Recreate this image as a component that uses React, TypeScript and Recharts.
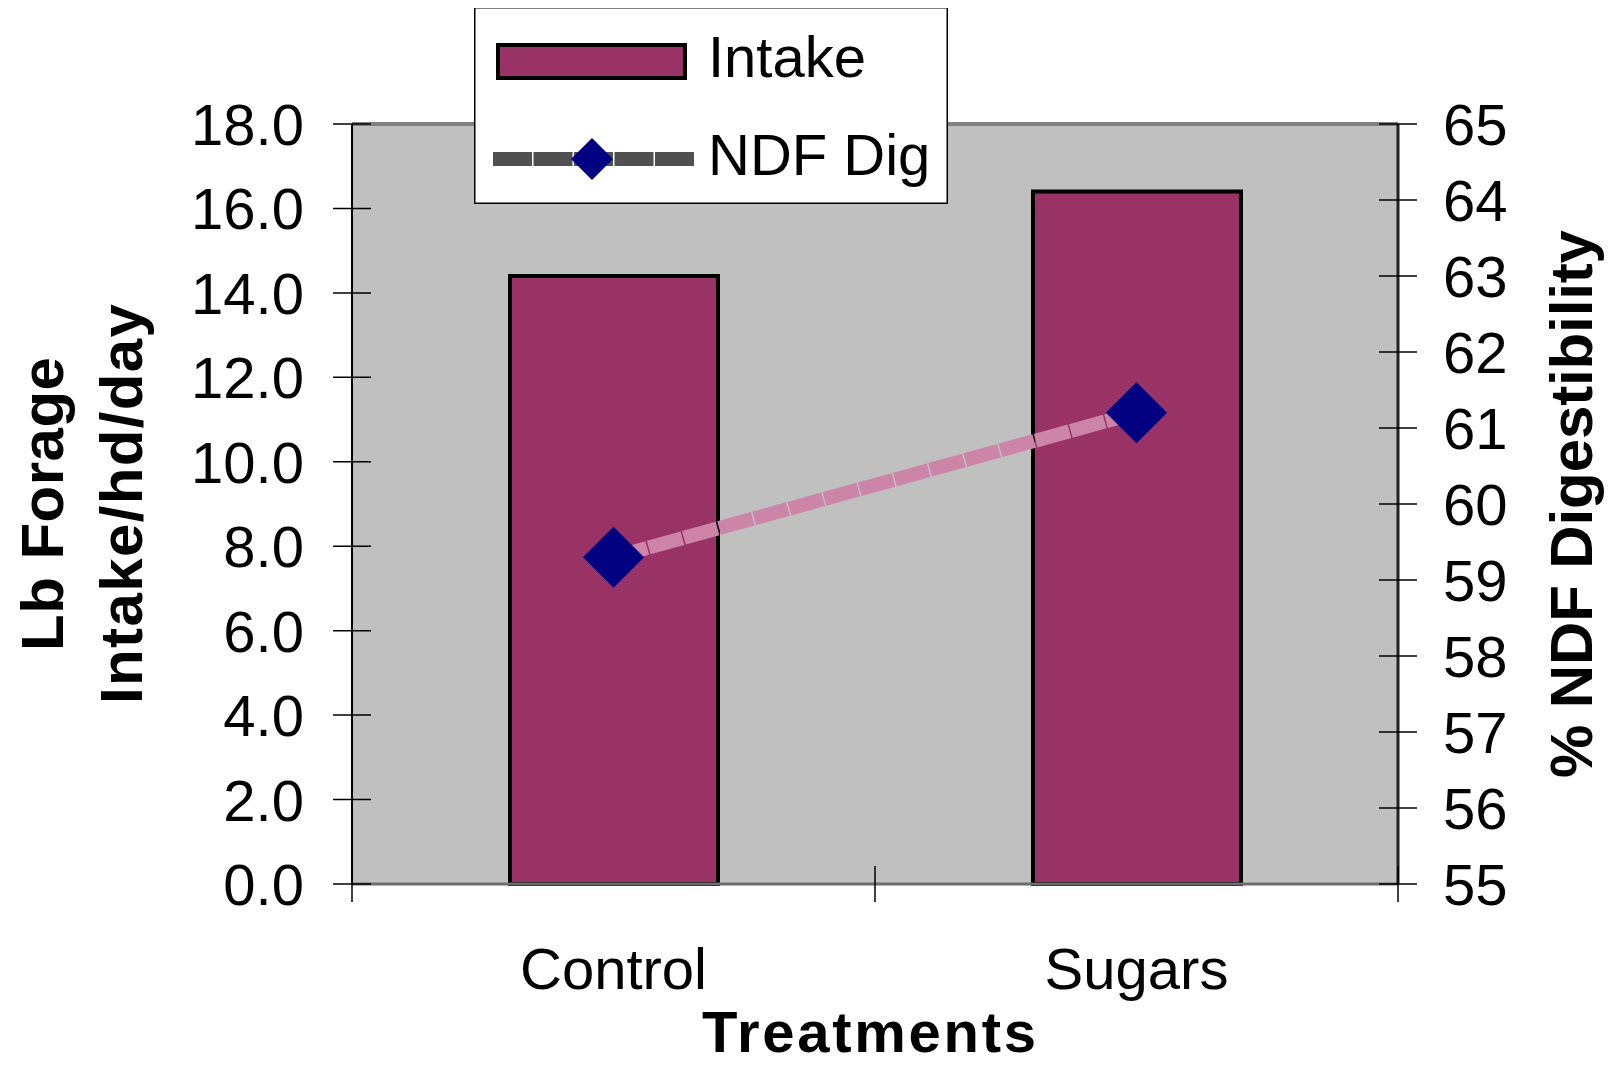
import React from 'react';
import { ComposedChart, Bar, Line, XAxis, YAxis, CartesianGrid, Legend, ReferenceLine } from 'recharts';

const categories = ['Control', 'Sugars'];
const intakeValues = [14.4, 16.4];
const ndfDigValues = [59.3, 61.2];
const leftTicks = [0, 2, 4, 6, 8, 10, 12, 14, 16, 18];
const rightTicks = [55, 56, 57, 58, 59, 60, 61, 62, 63, 64, 65];

const data = categories.map((name, i) => ({ name, intake: intakeValues[i], ndf: ndfDigValues[i] }));

const W = 1600;
const H = 1059;
const LEFT_AXIS_W = 200;
const RIGHT_AXIS_W = 210;
const X_AXIS_H = 183;
const MARGIN = { top: 116, right: 0, bottom: 0, left: 144 };
const PLOT_W = W - MARGIN.left - MARGIN.right - LEFT_AXIS_W - RIGHT_AXIS_W;
const HALF_BAND = PLOT_W / categories.length / 2;

const FONT = "'Liberation Sans', Arial, sans-serif";
const BAR_FILL = '#993366';
const LINE_COLOR = '#cc84a7';
const MARKER = '#000080';

const LeftTick = (props: any) => {
  const { x, y, payload } = props;
  return (
    <g>
      <line x1={x - 19} x2={x + 19} y1={y} y2={y} stroke="#000" strokeWidth={1.5} />
      <text x={x - 48} y={y + 21} textAnchor="end" fontSize={58} fontFamily={FONT} fill="#000">
        {Number(payload.value).toFixed(1)}
      </text>
    </g>
  );
};

const RightTick = (props: any) => {
  const { x, y, payload } = props;
  return (
    <g>
      <line x1={x - 19} x2={x + 19} y1={y} y2={y} stroke="#000" strokeWidth={1.5} />
      <text x={x + 45} y={y + 21} textAnchor="start" fontSize={58} fontFamily={FONT} fill="#000">
        {payload.value}
      </text>
    </g>
  );
};

const BottomTick = (props: any) => {
  const { x, y, payload, index } = props;
  const isLast = index === categories.length - 1;
  return (
    <g>
      <line x1={x - HALF_BAND} x2={x - HALF_BAND} y1={y - 18} y2={y + 18} stroke="#000" strokeWidth={1.5} />
      {isLast && (
        <line x1={x + HALF_BAND} x2={x + HALF_BAND} y1={y - 18} y2={y + 18} stroke="#000" strokeWidth={1.5} />
      )}
      <text x={x} y={y + 105} textAnchor="middle" fontSize={58} fontFamily={FONT} fill="#000">
        {payload.value}
      </text>
    </g>
  );
};

const Diamond = (props: any) => {
  const { cx, cy, index } = props;
  if (cx == null || cy == null) return <g key={`d-${index}`} />;
  const r = 30;
  return (
    <polygon
      key={`d-${index}`}
      points={`${cx},${cy - r} ${cx + r},${cy} ${cx},${cy + r} ${cx - r},${cy}`}
      fill={MARKER}
      stroke={MARKER}
      strokeWidth={1}
    />
  );
};

const LeftTitle = (props: any) => {
  const { viewBox } = props;
  const cy = viewBox.y + viewBox.height / 2;
  const b1 = viewBox.x - 89;
  const b2 = viewBox.x - 10;
  return (
    <g>
      <text x={b1} y={cy} transform={`rotate(-90, ${b1}, ${cy})`} textAnchor="middle" fontSize={60} fontWeight="bold" fontFamily={FONT} fill="#000" textLength={294} lengthAdjust="spacing">
        Lb Forage
      </text>
      <text x={b2} y={cy} transform={`rotate(-90, ${b2}, ${cy})`} textAnchor="middle" fontSize={60} fontWeight="bold" fontFamily={FONT} fill="#000" textLength={400} lengthAdjust="spacing">
        Intake/hd/day
      </text>
    </g>
  );
};

const RightTitle = (props: any) => {
  const { viewBox } = props;
  const cy = viewBox.y + viewBox.height / 2;
  const b = viewBox.x + 194;
  return (
    <text x={b} y={cy} transform={`rotate(-90, ${b}, ${cy})`} textAnchor="middle" fontSize={60} fontWeight="bold" fontFamily={FONT} fill="#000" textLength={548} lengthAdjust="spacing">
      % NDF Digestibility
    </text>
  );
};

const BottomTitle = (props: any) => {
  const { viewBox } = props;
  const cx = viewBox.x + viewBox.width / 2 - 6;
  const by = viewBox.y + 168;
  return (
    <text x={cx} y={by} textAnchor="middle" fontSize={58} fontWeight="bold" fontFamily={FONT} fill="#000" textLength={334} lengthAdjust="spacing">
      Treatments
    </text>
  );
};

const LegendBox = () => (
  <svg width={474} height={197} style={{ display: 'block' }}>
    <rect x={0.75} y={0.75} width={472.5} height={195.5} fill="#fff" stroke="#000" strokeWidth={1.5} />
    <rect x={24} y={38} width={187} height={33} fill={BAR_FILL} stroke="#000" strokeWidth={4} />
    <text x={234} y={70} fontSize={58} fontFamily={FONT} fill="#000">Intake</text>
    <line x1={19} x2={221} y1={152} y2={152} stroke="#505050" strokeWidth={14} strokeDasharray="39 1.5" />
    <polygon points="118,131 139,152 118,173 97,152" fill={MARKER} />
    <text x={234} y={168} fontSize={58} fontFamily={FONT} fill="#000">NDF Dig</text>
  </svg>
);

export default function App() {
  return (
    <div style={{ width: W, height: H }}>
      <ComposedChart width={W} height={H} data={data} margin={MARGIN}>
        <CartesianGrid fill="#c0c0c0" horizontal={false} vertical={false} />
        <XAxis
          dataKey="name"
          height={X_AXIS_H}
          tickLine={false}
          tickSize={0}
          tickMargin={0}
          tick={<BottomTick />}
          axisLine={{ stroke: '#6e6e6e', strokeWidth: 3 }}
          interval={0}
          label={{ content: BottomTitle } as any}
        />
        <YAxis
          width={LEFT_AXIS_W}
          domain={[0, 18]}
          ticks={leftTicks}
          interval={0}
          tickLine={false}
          tickSize={0}
          tickMargin={0}
          tick={<LeftTick />}
          axisLine={{ stroke: '#000', strokeWidth: 2 }}
          label={{ content: LeftTitle } as any}
        />
        <YAxis
          yAxisId="right"
          orientation="right"
          width={RIGHT_AXIS_W}
          domain={[55, 65]}
          ticks={rightTicks}
          interval={0}
          tickLine={false}
          tickSize={0}
          tickMargin={0}
          tick={<RightTick />}
          axisLine={{ stroke: '#202020', strokeWidth: 3 }}
          label={{ content: RightTitle } as any}
        />
        <ReferenceLine y={18} stroke="#808080" strokeWidth={4} />
        <Bar dataKey="intake" name="Intake" fill={BAR_FILL} stroke="#000" strokeWidth={4} barSize={208} isAnimationActive={false} />
        <Line
          yAxisId="right"
          dataKey="ndf"
          name="NDF Dig"
          type="linear"
          stroke={LINE_COLOR}
          strokeWidth={14}
          strokeDasharray="35 1.5"
          dot={Diamond}
          activeDot={false}
          isAnimationActive={false}
        />
        <Legend
          layout="horizontal"
          verticalAlign="middle"
          align="center"
          content={() => <LegendBox />}
          wrapperStyle={{ position: 'absolute', left: 466, top: -1, width: 474, height: 197 }}
        />
      </ComposedChart>
    </div>
  );
}
